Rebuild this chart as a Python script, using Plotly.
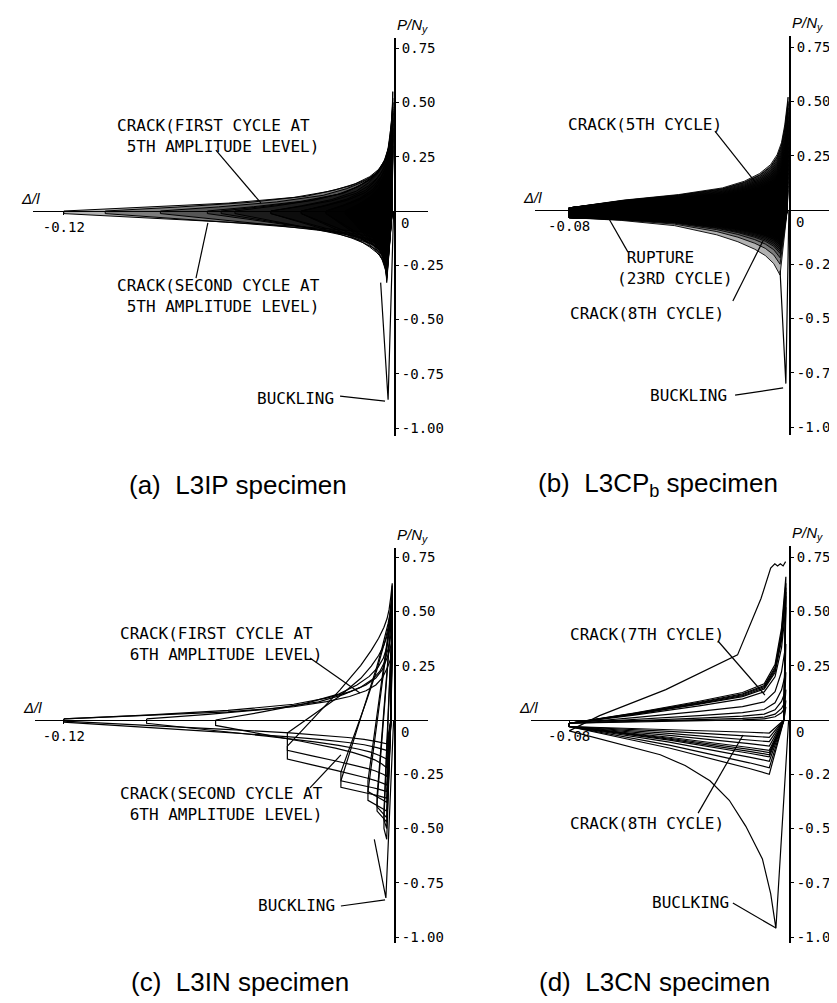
import plotly.graph_objects as go

W, H = 837, 1003
KX, KY = 2760.0, 217.0          # px per data unit (layout scale)
MONO = "DejaVu Sans Mono"
SANS = "Liberation Sans"

# ---------------- tick labels ----------------
Y_TICKS = [0.75, 0.50, 0.25, -0.25, -0.50, -0.75, -1.00]
Y_TICK_LABELS = ["0.75", "0.50", "0.25", "-0.25", "-0.50", "-0.75", "-1.00"]

# ---------------- panel (a) L3IP ----------------
A_TIP = [-0.006, -0.006, -0.009, -0.009, -0.013, -0.013, -0.018, -0.018, -0.025, -0.025,
         -0.034, -0.034, -0.045, -0.045, -0.058, -0.063, -0.068, -0.085, -0.105, -0.120]
A_PT = [0.30, 0.28, 0.38, 0.35, 0.46, 0.42, 0.55, 0.50, 0.52, 0.47,
        0.50, 0.45, 0.48, 0.43, 0.45, 0.42, 0.40, 0.38, 0.36, 0.33]
A_PC = [-0.33, -0.31, -0.32, -0.30, -0.31, -0.28, -0.30, -0.27, -0.28, -0.25,
        -0.26, -0.23, -0.23, -0.21, -0.20, -0.18, -0.17, -0.16, -0.14, -0.12]
A_UP_S = [0, 0.25, 0.5, 0.7, 0.8, 0.87, 0.92, 0.95, 0.97, 0.985, 1.0]
A_UP_H = [0, 0.05, 0.11, 0.19, 0.27, 0.35, 0.44, 0.53, 0.64, 0.80, 1.0]
A_LO_S = [0, 0.25, 0.5, 0.7, 0.8, 0.88, 0.93, 0.97, 1.0]
A_LO_G = [0, 0.18, 0.36, 0.52, 0.62, 0.72, 0.80, 0.90, 1.0]
A_BUCK_X = [-0.0005, -0.0025, -0.0052]
A_BUCK_P = [0.0, -0.87, -0.33]

# ---------------- panel (b) L3CPb ----------------
B_TIP = [-0.08] * 23
B_PT = [0.52, 0.50, 0.49, 0.47, 0.45, 0.43, 0.41, 0.39, 0.37, 0.35, 0.33, 0.31,
        0.29, 0.27, 0.25, 0.23, 0.21, 0.19, 0.17, 0.15, 0.13, 0.11, 0.09]
B_PC = [-0.30, -0.22, -0.20, -0.19, -0.18, -0.17, -0.16, -0.25, -0.16, -0.15, -0.15, -0.14,
        -0.14, -0.13, -0.13, -0.12, -0.12, -0.11, -0.10, -0.09, -0.08, -0.07, -0.06]
B_UP_S = [0, 0.25, 0.5, 0.7, 0.8, 0.87, 0.92, 0.95, 0.97, 0.985, 1.0]
B_UP_H = [0, 0.07, 0.12, 0.18, 0.24, 0.31, 0.39, 0.48, 0.59, 0.75, 1.0]
B_LO_S = [0, 0.25, 0.5, 0.7, 0.8, 0.88, 0.93, 0.97, 1.0]
B_LO_G = [0, 0.05, 0.14, 0.30, 0.42, 0.55, 0.66, 0.80, 1.0]
B_BUCK_X = [-0.0004, -0.0015, -0.0036]
B_BUCK_P = [0.0, -0.80, -0.28]

# ---------------- panel (c) L3IN ----------------
C_TIP = [-0.004, -0.004, -0.0065, -0.0065, -0.0098, -0.0098, -0.0196, -0.0196,
         -0.039, -0.039, -0.065, -0.090, -0.120, -0.120]
C_PT = [0.45, 0.47, 0.52, 0.53, 0.57, 0.58, 0.60, 0.62, 0.63, 0.58, 0.50, 0.42, 0.36, 0.30]
C_PC = [-0.55, -0.50, -0.47, -0.45, -0.42, -0.38, -0.36, -0.33, -0.30, -0.26, -0.22, -0.18, -0.14, -0.11]
C_PL = [-0.50, -0.46, -0.42, -0.40, -0.37, -0.33, -0.31, -0.28, -0.18, -0.14, -0.025, -0.015, -0.01, -0.005]
C_PU = [-0.45, -0.42, -0.38, -0.35, -0.33, -0.28, -0.28, -0.24, -0.12, -0.06, 0.0, 0.005, 0.005, 0.005]
C_K = [0, 0, 0, 0, 0.1, 0.1, 0.2, 0.3, 0.4, 0.6, 0.9, 1, 1, 1]
C_UP_S = [0, 0.25, 0.5, 0.7, 0.8, 0.87, 0.92, 0.95, 0.97, 0.985, 1.0]
C_UP_H = [0, 0.05, 0.11, 0.19, 0.27, 0.35, 0.44, 0.53, 0.64, 0.80, 1.0]
C_LO_S = [0, 0.25, 0.5, 0.7, 0.8, 0.88, 0.93, 0.97, 1.0]
C_LO_G = [0, 0.18, 0.36, 0.52, 0.62, 0.72, 0.80, 0.90, 1.0]
C_BUCK_X = [-0.0005, -0.0033, -0.0075]
C_BUCK_P = [0.0, -0.82, -0.55]

# ---------------- panel (d) L3CN ----------------
D_TIP = [-0.08] * 11
D_PT = [0.66, 0.63, 0.61, 0.59, 0.57, 0.52, 0.35, 0.22, 0.14, 0.09, 0.06]
D_PC = [-0.25, -0.22, -0.19, -0.17, -0.16, -0.15, -0.14, -0.12, -0.10, -0.08, -0.06]
D_UP_S = [0, 0.3, 0.6, 0.8, 0.9, 0.95, 0.98, 1.0]
D_UP_H = [0, 0.07, 0.15, 0.21, 0.27, 0.40, 0.65, 1.0]
D_LO_S = [0, 0.5, 0.9, 1.0]
D_LO_G = [0, 0.45, 0.88, 1.0]
# first cycle: elastic compression, buckling, post-buckling, tension reload
D_FIRST_X = [-0.0005, -0.0051, -0.007, -0.010, -0.016, -0.022, -0.029, -0.038, -0.047, -0.065, -0.080,
             -0.069, -0.045, -0.019, -0.0105, -0.007, -0.0055, -0.0045, -0.0035, -0.0025, -0.0016]
D_FIRST_P = [0.0, -0.96, -0.80, -0.64, -0.49, -0.37, -0.28, -0.21, -0.16, -0.10, -0.05,
             0.02, 0.14, 0.30, 0.56, 0.70, 0.72, 0.71, 0.72, 0.71, 0.73]

PANELS = [
    dict(key="a", ax="", ox=387, oy=203, x0=25, x1=420, ytop=30, ybot=428,
         xtick=-0.12, tip=A_TIP, pt=A_PT, pc=A_PC, pu=0.0, pl=-0.012, k=1.0,
         geo=(-0.0008, -0.001, -0.003), up=(A_UP_S, A_UP_H), lo=(A_LO_S, A_LO_G),
         extra=[(A_BUCK_X, A_BUCK_P)], alpha=0.3, lw=1.0,
         caption="(a)  L3IP specimen", cap=(230, 477),
         texts=[("CRACK(FIRST CYCLE AT<br>\u00a05TH AMPLITUDE LEVEL)", -0.1014, 0.346),
                ("CRACK(SECOND CYCLE AT<br>\u00a05TH AMPLITUDE LEVEL)", -0.1014, -0.392),
                ("BUCKLING", -0.0507, -0.862)],
         leaders=[(-0.0649, 0.281, -0.0486, 0.037), (-0.0721, -0.309, -0.0678, -0.055),
                  (-0.0199, -0.853, -0.0036, -0.876)]),
    dict(key="b", ax="2", ox=782, oy=202, x0=527, x1=827, ytop=28, ybot=427,
         xtick=-0.08, tip=B_TIP, pt=B_PT, pc=B_PC, pu=0.01, pl=-0.035, k=1.0,
         geo=(-0.0007, -0.001, -0.0036), up=(B_UP_S, B_UP_H), lo=(B_LO_S, B_LO_G),
         extra=[(B_BUCK_X, B_BUCK_P)], alpha=0.3, lw=0.9,
         caption="(b)  L3CP<sub>b</sub> specimen", cap=(650, 477),
         texts=[("CRACK(5TH CYCLE)", -0.0812, 0.392),
                ("\u00a0RUPTURE<br>(23RD CYCLE)", -0.0634, -0.267),
                ("CRACK(8TH CYCLE)", -0.0804, -0.475),
                ("BUCKLING", -0.0514, -0.853)],
         leaders=[(-0.0272, 0.364, -0.0123, 0.124), (-0.0587, -0.194, -0.0670, -0.009),
                  (-0.0207, -0.419, -0.0098, -0.143), (-0.0199, -0.853, -0.0025, -0.820)]),
    dict(key="c", ax="3", ox=387, oy=712, x0=27, x1=420, ytop=540, ybot=935,
         xtick=-0.12, tip=C_TIP, pt=C_PT, pc=C_PC, pu=C_PU, pl=C_PL, k=C_K,
         geo=(-0.001, -0.0015, -0.003), up=(C_UP_S, C_UP_H), lo=(C_LO_S, C_LO_G),
         extra=[(C_BUCK_X, C_BUCK_P)], alpha=0.0, lw=1.2,
         caption="(c)  L3IN specimen", cap=(232, 974),
         texts=[("CRACK(FIRST CYCLE AT<br>\u00a06TH AMPLITUDE LEVEL)", -0.1004, 0.350),
                ("CRACK(SECOND CYCLE AT<br>\u00a06TH AMPLITUDE LEVEL)", -0.1004, -0.387),
                ("BUCKLING", -0.0504, -0.857)],
         leaders=[(-0.0308, 0.286, -0.0127, 0.124), (-0.0308, -0.313, -0.0196, -0.161),
                  (-0.0196, -0.857, -0.0036, -0.829)]),
    dict(key="d", ax="4", ox=782, oy=712, x0=523, x1=828, ytop=538, ybot=935,
         xtick=-0.08, tip=D_TIP, pt=D_PT, pc=D_PC, pu=-0.015, pl=-0.03, k=1.0,
         geo=(-0.0015, -0.0022, -0.0075), up=(D_UP_S, D_UP_H), lo=(D_LO_S, D_LO_G),
         extra=[(D_FIRST_X, D_FIRST_P)], alpha=0.0, lw=1.2,
         caption="(d)  L3CN specimen", cap=(646, 974),
         texts=[("CRACK(7TH CYCLE)", -0.0804, 0.392),
                ("CRACK(8TH CYCLE)", -0.0804, -0.475),
                ("BUCLKING", -0.0507, -0.843)],
         leaders=[(-0.0261, 0.364, -0.0091, 0.115), (-0.0333, -0.429, -0.0170, -0.069),
                  (-0.0207, -0.843, -0.0051, -0.959)]),
]


def as_list(v, n):
    return v if isinstance(v, list) else [v] * n


def build_loop(tip, pt, pc, pu, pl, k, geo, up, lo):
    xr, xu, xc = geo
    xs, ys = [], []
    for s, h in zip(*up):
        w = (1 - k) * s + k * h
        xs.append(tip + s * (xr - tip))
        ys.append(pu + (pt - pu) * w)
    xs.append(xu)
    ys.append(0.0)
    for s, g in zip(lo[0][::-1], lo[1][::-1]):
        w = (1 - k) * s + k * g
        xs.append(tip + s * (xc - tip))
        ys.append(pl + (pc - pl) * w)
    xs.append(xs[0])
    ys.append(ys[0])
    return xs, ys


fig = go.Figure()
annotations = []
shapes = []
layout_axes = {}

for p in PANELS:
    n = len(p["tip"])
    pus, pls, ks = as_list(p["pu"], n), as_list(p["pl"], n), as_list(p["k"], n)
    xa, ya = "x" + p["ax"], "y" + p["ax"]
    for i in range(n):
        xs, ys = build_loop(p["tip"][i], p["pt"][i], p["pc"][i], pus[i], pls[i], ks[i],
                            p["geo"], p["up"], p["lo"])
        tr = dict(x=xs, y=ys, mode="lines", line=dict(color="black", width=p["lw"]),
                  xaxis=xa, yaxis=ya, hoverinfo="skip", showlegend=False)
        if p["alpha"] > 0:
            tr.update(fill="toself", fillcolor="rgba(0,0,0,%g)" % p["alpha"])
        fig.add_trace(go.Scatter(**tr))
    for ex, ey in p["extra"]:
        fig.add_trace(go.Scatter(x=ex, y=ey, mode="lines", line=dict(color="black", width=1.2),
                                 xaxis=xa, yaxis=ya, hoverinfo="skip", showlegend=False))

    # axes (layout geometry from pixel frame)
    xr0, xr1 = (p["x0"] - p["ox"]) / KX, (p["x1"] - p["ox"]) / KX
    yr0, yr1 = (p["oy"] - p["ybot"]) / KY, (p["oy"] - p["ytop"]) / KY
    layout_axes["xaxis" + p["ax"]] = dict(
        domain=[p["x0"] / W, p["x1"] / W], range=[xr0, xr1], showgrid=False,
        zeroline=True, zerolinecolor="black", zerolinewidth=1.6, showline=False,
        anchor="free", position=1 - p["oy"] / H, side="bottom", automargin=False,
        tickvals=[p["xtick"]], ticktext=["%.2f" % p["xtick"]], ticks="outside",
        ticklen=3, tickcolor="black", tickfont=dict(family=MONO, size=14, color="black"),
        fixedrange=True)
    layout_axes["yaxis" + p["ax"]] = dict(
        domain=[1 - p["ybot"] / H, 1 - p["ytop"] / H], range=[yr0, yr1], showgrid=False,
        zeroline=True, zerolinecolor="black", zerolinewidth=1.4, showline=False,
        anchor="free", position=p["ox"] / W, side="right", automargin=False,
        tickvals=Y_TICKS, ticktext=Y_TICK_LABELS, ticks="outside", ticklen=3,
        tickcolor="black", tickfont=dict(family=MONO, size=14, color="black"),
        fixedrange=True)

    # axis titles / zero label
    annotations.append(dict(x=0, y=yr1, xref=xa, yref=ya, text="<i>P/N<sub>y</sub></i>",
                            showarrow=False, xanchor="left", yanchor="bottom", yshift=1,
                            font=dict(family=SANS, size=15, color="black")))
    annotations.append(dict(x=xr0, y=0, xref=xa, yref=ya, text="<i>Δ/l</i>",
                            showarrow=False, xanchor="center", yanchor="bottom", yshift=2,
                            xshift=-3, font=dict(family=SANS, size=15, color="black")))
    annotations.append(dict(x=0, y=0, xref=xa, yref=ya, text="0", showarrow=False,
                            xanchor="left", yanchor="top", xshift=4, yshift=-2,
                            font=dict(family=MONO, size=14, color="black")))
    for txt, tx, ty in p["texts"]:
        annotations.append(dict(x=tx, y=ty, xref=xa, yref=ya, text=txt, showarrow=False,
                                xanchor="left", yanchor="middle", align="left",
                                font=dict(family=MONO, size=16, color="black")))
    for x0, y0, x1, y1 in p["leaders"]:
        shapes.append(dict(type="line", xref=xa, yref=ya, x0=x0, y0=y0, x1=x1, y1=y1,
                           line=dict(color="black", width=1.2)))
    annotations.append(dict(x=p["cap"][0] / W, y=1 - p["cap"][1] / H, xref="paper",
                            yref="paper", text=p["caption"], showarrow=False,
                            xanchor="center", yanchor="middle",
                            font=dict(family=SANS, size=26, color="black")))

fig.update_layout(width=W, height=H, margin=dict(l=0, r=0, t=0, b=0, autoexpand=False),
                  paper_bgcolor="white", plot_bgcolor="white", showlegend=False,
                  annotations=annotations, shapes=shapes, **layout_axes)

fig.write_html("out.html")
